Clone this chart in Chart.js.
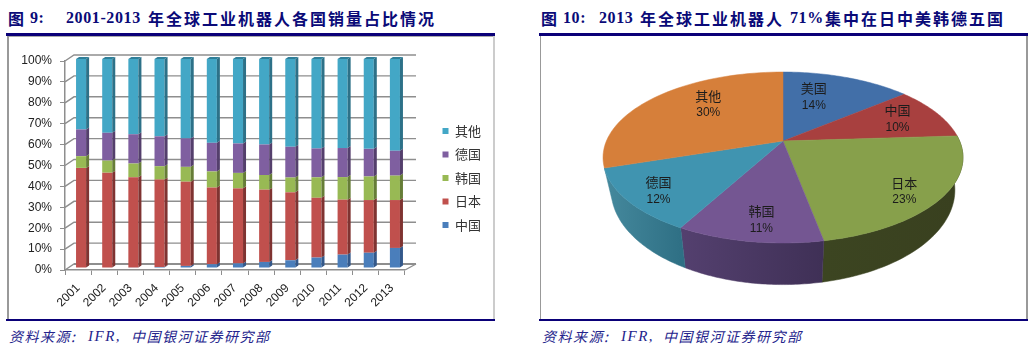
<!DOCTYPE html>
<html><head><meta charset="utf-8">
<script src="https://cdn.jsdelivr.net/npm/chart.js@4"></script>
<style>
html,body{margin:0;padding:0;background:#fff;width:1035px;height:352px;overflow:hidden}
.t{position:absolute;white-space:nowrap;color:#0a0a78;font-weight:700;font-size:16px;line-height:20px;top:8px;font-family:"Noto Sans CJK SC"}
.t.n{font-family:"Liberation Serif";letter-spacing:.6px;font-size:16px}
.t.c{letter-spacing:2px}
.s{position:absolute;white-space:nowrap;top:327px;color:#24248c;font:italic 14px/18px "Noto Sans CJK SC";letter-spacing:1.5px}
.s.e{font-family:"Liberation Serif";font-size:15px}
.r{position:absolute;background:#0a0078}
.g{position:absolute;background:#999}
canvas{position:absolute}
</style></head><body>
<div class="t" style="left:8px">图</div><div class="t n" style="left:30px">9:</div>
<div class="t n" style="left:66px">2001-2013</div><div class="t c" style="left:148px">年全球工业机器人各国销量占比情况</div>
<div class="t" style="left:541px">图</div><div class="t n" style="left:563px">10:</div>
<div class="t n" style="left:599px">2013</div><div class="t c" style="left:640px">年全球工业机器人</div>
<div class="t n" style="left:790px">71%</div><div class="t c" style="left:825px">集中在日中美韩德五国</div>
<div class="r" style="left:6px;top:33px;width:489px;height:3px"></div>
<div class="r" style="left:539px;top:33px;width:489px;height:3px"></div>
<div class="g" style="left:7px;top:36px;width:2px;height:284px"></div>
<div class="g" style="left:9px;top:36px;width:485px;height:1px;background:#aaa"></div>
<div class="g" style="left:493px;top:36px;width:2px;height:284px;background:#ccc"></div>
<div class="g" style="left:540px;top:36px;width:1px;height:284px"></div>
<div class="g" style="left:1026px;top:36px;width:2px;height:284px"></div>
<div class="r" style="left:6px;top:319px;width:489px;height:2px"></div>
<div class="r" style="left:539px;top:319px;width:489px;height:2px"></div>
<div class="s" style="left:9px">资料来源:</div><div class="s e" style="left:88px">IFR,</div><div class="s" style="left:131px">中国银河证券研究部</div>
<div class="s" style="left:542px">资料来源:</div><div class="s e" style="left:621px">IFR,</div><div class="s" style="left:663px">中国银河证券研究部</div>
<canvas id="bar" width="484" height="280" style="left:9px;top:38px;width:484px;height:280px"></canvas>
<canvas id="pie" width="485" height="282" style="left:541px;top:37px;width:485px;height:282px"></canvas>
<script>
const years=['2001','2002','2003','2004','2005','2006','2007','2008','2009','2010','2011','2012','2013'];
const china=[0,0,0.2,0.5,1,1.8,2.2,2.9,3.7,5,6.4,7.3,9.6];
const japan=[47.9,45.6,43.2,41.8,40.3,36.7,35.9,34.6,32.5,28.6,26.3,25.2,22.9];
const korea=[5.6,5.8,6.6,6.4,7.1,7.7,7.4,7,7.1,9.8,10.8,11.3,11.7];
const germany=[12.8,13.3,14,14.3,13.6,13.7,14.1,14.6,14.7,13.8,13.9,13.2,11.9];
const other=[33.7,35.3,36,37,38,40.1,40.4,40.9,42,42.8,42.6,43,43.9];
const pieLabels=['美国','中国','日本','韩国','德国','其他'];
const pieValues=[14,10,23,11,12,30];

const barColors=['#4a7ebb','#c0504d','#98b954','#7f5fa0','#43a7c6'];
const barSides=['#33588a','#7f3331','#667d37','#543f6c','#2d7188'];
const gray='#8e8e8e';
const ox=3,oy=-2;      // bar offset inside the 3D box
const dx=3,dy=-2;      // bar depth
const wx=9,wy=-6;      // back wall offset

const box3d={id:'box3d',
 beforeDatasetsDraw(c){
  const {ctx,chartArea:a,scales:{y}}=c;
  ctx.save();ctx.strokeStyle=gray;ctx.lineWidth=1.4;
  y.ticks.forEach(t=>{const p=y.getPixelForValue(t.value);
   ctx.beginPath();ctx.moveTo(a.left,p);ctx.lineTo(a.left+wx,p+wy);ctx.lineTo(a.right+wx+2,p+wy);ctx.stroke();});
  ctx.beginPath();ctx.moveTo(a.right,a.bottom);ctx.lineTo(a.right+wx+2,a.bottom+wy);ctx.stroke();
  ctx.lineWidth=2;ctx.beginPath();ctx.moveTo(a.left+wx,a.bottom+wy);ctx.lineTo(a.right+wx+2,a.bottom+wy);ctx.stroke();
  ctx.restore();
  ctx.save();ctx.translate(ox,oy);
 },
 afterDatasetsDraw(c){
  const {ctx}=c;
  c.data.datasets.forEach((d,i)=>{
   c.getDatasetMeta(i).data.forEach((b,j)=>{
    const r=b.x+b.width/2;
    ctx.fillStyle=barSides[i];
    ctx.beginPath();ctx.moveTo(r,b.y);ctx.lineTo(r+dx,b.y+dy);ctx.lineTo(r+dx,b.base+dy);ctx.lineTo(r,b.base);ctx.closePath();ctx.fill();
    if(i===c.data.datasets.length-1){
     const l=b.x-b.width/2;
     ctx.fillStyle='#2f7f99';
     ctx.beginPath();ctx.moveTo(l,b.y);ctx.lineTo(l+dx,b.y+dy);ctx.lineTo(r+dx,b.y+dy);ctx.lineTo(r,b.y);ctx.closePath();ctx.fill();
    }
   });
  });
  ctx.restore();
 }};

new Chart(document.getElementById('bar'),{
 type:'bar',
 data:{labels:years,datasets:[
  {label:'中国',data:china,backgroundColor:barColors[0]},
  {label:'日本',data:japan,backgroundColor:barColors[1]},
  {label:'韩国',data:korea,backgroundColor:barColors[2]},
  {label:'德国',data:germany,backgroundColor:barColors[3]},
  {label:'其他',data:other,backgroundColor:barColors[4]}]},
 options:{responsive:false,animation:false,
  datasets:{bar:{categoryPercentage:1,barPercentage:0.385}},
  layout:{padding:{left:0,top:0,right:2,bottom:0}},
  plugins:{tooltip:{enabled:false},
   legend:{position:'right',reverse:true,labels:{boxWidth:6,boxHeight:6,padding:10.5,color:'#333',font:{family:'"Noto Sans CJK SC"',size:13}}}},
  scales:{
   x:{stacked:true,offset:true,
    grid:{offset:true,drawOnChartArea:false,tickLength:5,tickColor:gray,color:gray},
    border:{color:gray,width:1.5},
    ticks:{minRotation:45,maxRotation:45,autoSkip:false,padding:6,color:'#222',font:{family:'"Liberation Sans"',size:12}},
    afterFit(s){s.height=48;}},
   y:{stacked:true,min:0,max:100,
    grid:{drawOnChartArea:false,tickLength:5,tickColor:gray,color:gray},
    border:{color:gray,width:1.5},
    ticks:{stepSize:10,padding:8,color:'#222',callback:v=>v+'%',font:{family:'"Liberation Sans"',size:12}},
    afterFit(s){s.width=56;}},
   gap:{position:'right',display:true,grid:{display:false},border:{display:false},ticks:{display:false},afterFit(s){s.width=27;}},
   gapTop:{position:'top',display:true,grid:{display:false},border:{display:false},ticks:{display:false},afterFit(s){s.height=23;}}
  }},
 plugins:[box3d]});

// perspective pie
const sliceColors=['#426fa8','#a8403f','#87a04b','#745692','#4094b0','#d67f3a'];
const wallFrom=['#2c4c75','#7a2e2d','#3c4521','#54406f','#45899d','#9a5a28'];
const wallTo=['#2c4c75','#7a2e2d','#39401f','#3f3056','#2f7085','#9a5a28'];
const labelNudge=[[-10,-4],[2,-2],[28,16],[0,15],[-17,8],[8,-9]];
const labelRadius=[0.6,0.72,0.62,0.68,0.72,0.62];
const cx=783-541, ay=141-37, sx=176.6, sy=82.3, tilt=0.193, wallOff=30.8, wallKx=0.955, wallKy=1.106;
function proj(a,r,kx,ky,off){const u=r*Math.cos(a),v=r*Math.sin(a),d=1-tilt*v;
 return [cx+kx*sx*u/d, ay+ky*sy*v/d+off];}
const pie3d={id:'pie3d',
 beforeDatasetDraw(c){
  const {ctx}=c, arcs=c.getDatasetMeta(0).data, n=48;
  arcs.forEach((arc,i)=>{
   const {startAngle:s,endAngle:e}=arc.getProps(['startAngle','endAngle']);
   if(Math.sin((s+e)/2)<0) return;
   const g=ctx.createLinearGradient(proj(s,1,1,1,0)[0],0,proj(e,1,1,1,0)[0],0);
   g.addColorStop(0,wallTo[i]);g.addColorStop(1,wallFrom[i]);
   ctx.fillStyle=g;ctx.strokeStyle=g;ctx.lineWidth=.5;
   ctx.beginPath();
   for(let j=0;j<=n;j++){const p=proj(s+(e-s)*j/n,1,1,1,0);j?ctx.lineTo(p[0],p[1]):ctx.moveTo(p[0],p[1]);}
   for(let j=n;j>=0;j--){const p=proj(s+(e-s)*j/n,1,wallKx,wallKy,wallOff);ctx.lineTo(p[0],p[1]);}
   ctx.closePath();ctx.fill();ctx.stroke();
  });
  arcs.forEach((arc,i)=>{
   const {startAngle:s,endAngle:e}=arc.getProps(['startAngle','endAngle']);
   ctx.fillStyle=sliceColors[i];ctx.strokeStyle=sliceColors[i];ctx.lineWidth=.5;
   ctx.beginPath();ctx.moveTo(cx,ay);
   for(let j=0;j<=n;j++){const p=proj(s+(e-s)*j/n,1,1,1,0);ctx.lineTo(p[0],p[1]);}
   ctx.closePath();ctx.fill();ctx.stroke();
  });
  ctx.textAlign='center';ctx.textBaseline='middle';ctx.fillStyle='#1c1c1c';
  arcs.forEach((arc,i)=>{
   const {startAngle:s,endAngle:e}=arc.getProps(['startAngle','endAngle']);
   const p=proj((s+e)/2,labelRadius[i],1,1,0);
   const x=p[0]+labelNudge[i][0],y=p[1]+labelNudge[i][1];
   ctx.font='13px "Noto Sans CJK SC"';ctx.fillText(pieLabels[i],x,y-8);
   ctx.font='12px "Liberation Sans"';ctx.fillText(pieValues[i]+'%',x,y+9);
  });
  return false;
 }};
new Chart(document.getElementById('pie'),{
 type:'pie',
 data:{labels:pieLabels,datasets:[{data:pieValues,backgroundColor:sliceColors,borderWidth:0}]},
 options:{responsive:false,animation:false,plugins:{legend:{display:false},tooltip:{enabled:false}}},
 plugins:[pie3d]});
</script>
</body></html>
